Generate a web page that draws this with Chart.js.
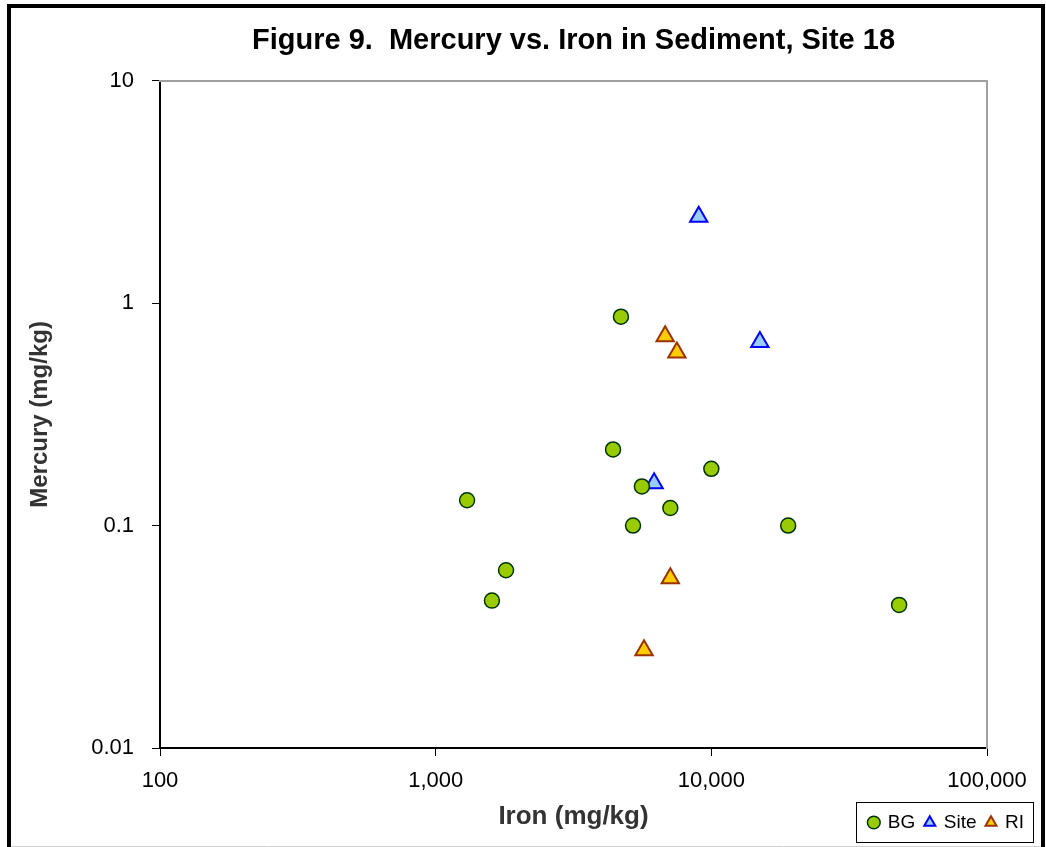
<!DOCTYPE html>
<html>
<head>
<meta charset="utf-8">
<script src="https://cdn.jsdelivr.net/npm/chart.js@4/dist/chart.umd.min.js"></script>
<style>
  html, body { margin: 0; padding: 0; background: #fff; }
  canvas { display: block; }
</style>
</head>
<body>
<canvas id="chart" width="1046" height="847"></canvas>
<script>
// Valores (Fe e Hg, mg/kg)
const bgIron = [1300, 1600, 1800, 4400, 4700, 5600, 5200, 7100, 10000, 19000, 48000]
const bgMercury = [0.13, 0.046, 0.063, 0.22, 0.87, 0.15, 0.10, 0.12, 0.18, 0.10, 0.044]

const siteIron = [9000, 15000, 6200]
const siteMercury = [2.45, 0.67, 0.155]

const riIron = [6800, 7500, 7100, 5700]
const riMercury = [0.71, 0.6, 0.058, 0.0275]

const xTicks = [100, 1000, 10000, 100000]
const xTickLabels = ['100', '1,000', '10,000', '100,000']
const yTicks = [0.01, 0.1, 1, 10]
const yTickLabels = ['0.01', '0.1', '1', '10']

const FONT = 'Arial, "Liberation Sans", sans-serif'

function toPoints(xs, ys) {
  return xs.map((x, i) => ({ x: x, y: ys[i] }))
}

// Fundo branco e moldura externa
const framePlugin = {
  id: 'frame',
  beforeDraw(chart) {
    const ctx = chart.ctx
    ctx.save()
    ctx.fillStyle = '#fff'
    ctx.fillRect(0, 0, chart.width, chart.height)
    ctx.strokeStyle = '#000'
    ctx.lineWidth = 4
    ctx.strokeRect(9, 6, 1034, 850)
    ctx.strokeStyle = '#d0d0d0'
    ctx.lineWidth = 1
    ctx.beginPath()
    ctx.moveTo(11, 846.5)
    ctx.lineTo(1041, 846.5)
    ctx.stroke()
    ctx.restore()
  }
}

// Caixa em volta da legenda
const legendBoxPlugin = {
  id: 'legendBox',
  afterDraw(chart) {
    const boxes = chart.legend && chart.legend.legendHitBoxes
    if (!boxes || !boxes.length) return
    const left = Math.min(...boxes.map(b => b.left)) - 13
    const right = Math.max(...boxes.map(b => b.left + b.width)) + 9
    const top = Math.min(...boxes.map(b => b.top)) - 11
    const bottom = Math.max(...boxes.map(b => b.top + b.height)) + 10
    const ctx = chart.ctx
    ctx.save()
    ctx.strokeStyle = '#000'
    ctx.lineWidth = 1
    ctx.strokeRect(Math.round(left) + 0.5, Math.round(top) + 0.5, Math.round(right - left), Math.round(bottom - top))
    ctx.restore()
  }
}

const ctx = document.getElementById('chart').getContext('2d')

new Chart(ctx, {
  type: 'scatter',
  data: {
    datasets: [
      {
        label: 'BG',
        data: toPoints(bgIron, bgMercury),
        pointStyle: 'circle',
        pointRadius: 7.5,
        pointHoverRadius: 7.5,
        borderWidth: 1.5,
        backgroundColor: '#99cc00',
        borderColor: '#003300'
      },
      {
        label: 'Site',
        data: toPoints(siteIron, siteMercury),
        pointStyle: 'triangle',
        pointRadius: 10,
        pointHoverRadius: 10,
        borderWidth: 2,
        backgroundColor: '#99ccff',
        borderColor: '#0000ff'
      },
      {
        label: 'RI',
        data: toPoints(riIron, riMercury),
        pointStyle: 'triangle',
        pointRadius: 10,
        pointHoverRadius: 10,
        borderWidth: 2,
        backgroundColor: '#ffcc00',
        borderColor: '#993300'
      }
    ]
  },
  options: {
    responsive: false,
    animation: false,
    devicePixelRatio: 1,
    layout: {
      padding: { left: 12, right: 12, top: 8, bottom: 5 }
    },
    plugins: {
      title: {
        display: true,
        fullSize: false,
        text: 'Figure 9.  Mercury vs. Iron in Sediment, Site 18',
        color: '#000',
        font: { family: FONT, size: 29, weight: 'bold' },
        padding: { top: 16, bottom: 22 }
      },
      legend: {
        display: true,
        position: 'bottom',
        align: 'end',
        labels: {
          usePointStyle: true,
          boxWidth: 9,
          boxHeight: 9,
          padding: 10,
          color: '#000',
          font: { family: FONT, size: 19 }
        }
      },
      tooltip: { enabled: false }
    },
    scales: {
      x: {
        type: 'logarithmic',
        position: 'bottom',
        min: 100,
        max: 100000,
        afterBuildTicks: s => { s.ticks = xTicks.map(v => ({ value: v })) },
        afterFit: s => { s.height = 55 },
        ticks: {
          callback: (v, i) => xTickLabels[i],
          color: '#000',
          font: { family: FONT, size: 22 },
          padding: 12,
          maxRotation: 0,
          autoSkip: false
        },
        grid: {
          drawOnChartArea: false,
          drawTicks: true,
          tickLength: 8,
          color: '#000',
          lineWidth: 1
        },
        border: { color: '#000', width: 2 },
        title: {
          display: true,
          text: 'Iron (mg/kg)',
          color: '#333',
          font: { family: FONT, size: 26, weight: 'bold' },
          padding: { top: 0, bottom: -29 }
        }
      },
      y: {
        type: 'logarithmic',
        position: 'left',
        min: 0.01,
        max: 10,
        afterBuildTicks: s => { s.ticks = yTicks.map(v => ({ value: v })) },
        afterFit: s => { s.width = 148 },
        ticks: {
          callback: (v, i) => yTickLabels[i],
          color: '#000',
          font: { family: FONT, size: 22 },
          padding: 18,
          autoSkip: false
        },
        grid: {
          drawOnChartArea: false,
          drawTicks: true,
          tickLength: 8,
          color: '#000',
          lineWidth: 1
        },
        border: { color: '#000', width: 2 },
        title: {
          display: true,
          text: 'Mercury (mg/kg)',
          color: '#333',
          font: { family: FONT, size: 24, weight: 'bold' },
          padding: { top: 14, bottom: 0 }
        }
      },
      // eixos auxiliares só para a moldura cinza (topo e direita)
      x2: {
        type: 'linear',
        position: 'top',
        afterFit: s => { s.height = 0 },
        ticks: { display: false },
        grid: { display: false, drawOnChartArea: false, drawTicks: false },
        border: { display: true, color: '#a0a0a0', width: 2 }
      },
      y2: {
        type: 'linear',
        position: 'right',
        afterFit: s => { s.width = 47 },
        ticks: { display: false },
        grid: { display: false, drawOnChartArea: false, drawTicks: false },
        border: { display: true, color: '#a0a0a0', width: 2 }
      }
    }
  },
  plugins: [framePlugin, legendBoxPlugin]
})
</script>
</body>
</html>
